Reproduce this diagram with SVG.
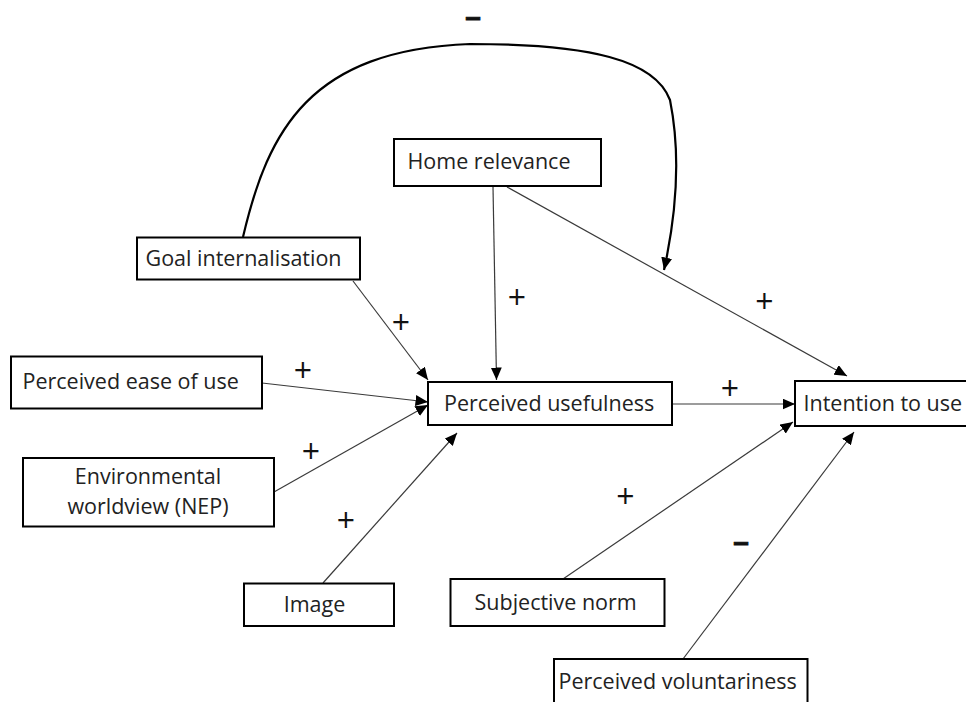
<svg xmlns="http://www.w3.org/2000/svg" width="966" height="702" viewBox="0 0 966 702">
<style>
.box{fill:#fff;stroke:#000;stroke-width:2}
.lbl{font-family:"Open Sans","Liberation Sans",sans-serif;font-size:21.5px;fill:#222}
.ctr{text-anchor:middle}
.edge{fill:none;stroke:#3a3a3a;stroke-width:1.2}
.curve{fill:none;stroke:#000;stroke-width:2.2}
.sign{font-family:"Open Sans","Liberation Sans",sans-serif;font-size:32px;fill:#111;text-anchor:middle}
.neg{font-family:"Liberation Sans",Arial,sans-serif;font-size:28px;font-weight:bold;fill:#111;stroke:#111;stroke-width:0.8;text-anchor:middle}
</style>
<defs>
<marker id="ah" markerUnits="userSpaceOnUse" markerWidth="13" markerHeight="11" refX="12.5" refY="5.5" orient="auto" viewBox="0 0 13 11">
<path d="M0,0 L12.5,5.5 L0,11 z" fill="#000"/>
</marker>
</defs>
<rect width="966" height="702" fill="#fff"/>
<g id="connectors">
<path class="curve" d="M243,237 C268,130 310,50 470,44 C590,44 655,60 670,100 C682,160 675,220 664,270" marker-end="url(#ah)"/>
<path class="edge" d="M353,281 L428,380" marker-end="url(#ah)"/>
<path class="edge" d="M493,187 L496.5,380" marker-end="url(#ah)"/>
<path class="edge" d="M507,187 L847,376" marker-end="url(#ah)"/>
<path class="edge" d="M262,383 L428,402" marker-end="url(#ah)"/>
<path class="edge" d="M274,492 L428,405" marker-end="url(#ah)"/>
<path class="edge" d="M323,583 L457,433" marker-end="url(#ah)"/>
<path class="edge" d="M672,404 L795,404" marker-end="url(#ah)"/>
<path class="edge" d="M563,579 L793,422" marker-end="url(#ah)"/>
<path class="edge" d="M683,659 L854,432" marker-end="url(#ah)"/>
</g>
<g id="signs">
<text class="neg" x="473" y="26">–</text>
<text class="sign" x="401" y="334">+</text>
<text class="sign" x="517" y="308.5">+</text>
<text class="sign" x="764.5" y="313">+</text>
<text class="sign" x="303" y="381.5">+</text>
<text class="sign" x="311" y="462.5">+</text>
<text class="sign" x="346" y="532">+</text>
<text class="sign" x="730" y="400">+</text>
<text class="sign" x="625.5" y="507.5">+</text>
<text class="neg" x="741" y="551">–</text>
</g>
<g id="home-relevance">
<rect class="box" x="394" y="139" width="207" height="47"/>
<text class="lbl" x="407.5" y="169">Home relevance</text>
</g>
<g id="goal-internalisation">
<rect class="box" x="137" y="237.5" width="223" height="42"/>
<text class="lbl" x="145.5" y="266">Goal internalisation</text>
</g>
<g id="perceived-ease-of-use">
<rect class="box" x="11" y="356.5" width="251" height="52"/>
<text class="lbl" x="22.5" y="388.5">Perceived ease of use</text>
</g>
<g id="environmental-worldview">
<rect class="box" x="23" y="458" width="251" height="68.5"/>
<text class="lbl ctr" x="148" y="484">Environmental</text>
<text class="lbl ctr" x="148" y="514">worldview (NEP)</text>
</g>
<g id="image">
<rect class="box" x="244" y="583.5" width="150" height="42.5"/>
<text class="lbl ctr" x="314.5" y="611.5">Image</text>
</g>
<g id="perceived-usefulness">
<rect class="box" x="428" y="382" width="244" height="43"/>
<text class="lbl" x="444" y="410.5">Perceived usefulness</text>
</g>
<g id="intention-to-use">
<rect class="box" x="795" y="381" width="180" height="45"/>
<text class="lbl" x="803.5" y="410.5">Intention to use</text>
</g>
<g id="subjective-norm">
<rect class="box" x="450.5" y="579" width="214" height="47"/>
<text class="lbl" x="474.5" y="610">Subjective norm</text>
</g>
<g id="perceived-voluntariness">
<rect class="box" x="554" y="659" width="253.5" height="60"/>
<text class="lbl" x="558.5" y="688.5">Perceived voluntariness</text>
</g>
</svg>
